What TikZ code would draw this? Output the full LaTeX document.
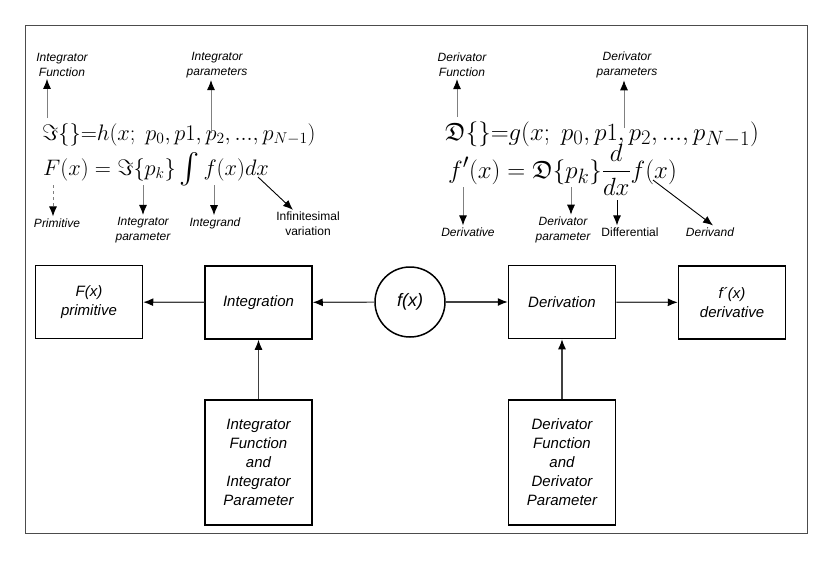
\documentclass[tikz,border=0pt]{standalone}
\usepackage{amsmath,amssymb,graphicx}
\usepackage{fontspec}
\setsansfont{Liberation Sans}
\usetikzlibrary{arrows.meta}

\newcommand{\bigintop}{\mathop{\vcenter{\hbox{\scalebox{1.35}{$\int$}}}}}

\tikzset{
  blk/.style={draw,line width=1.5pt,minimum width=107pt,minimum height=73pt,
    align=center,font=\sffamily\itshape\fontsize{15}{19}\selectfont},
  lbl/.style={align=center,inner sep=2pt,font=\sffamily\itshape\fontsize{12}{15}\selectfont},
  eqn/.style={anchor=base west,inner sep=0pt,font=\fontsize{20.74}{25}\selectfont},
  ptr/.style={-{Latex[length=10pt,width=8pt,black]},gray,line width=0.9pt},
  conn/.style={-{Latex[length=10pt,width=8pt,black]},black!75,line width=1.2pt},
}

\begin{document}
\begin{tikzpicture}[x=1pt,y=-1pt]
\useasboundingbox (0,0) rectangle (830,587);
\draw[black!70,line width=0.8pt] (25,25) rectangle (807,533);

% integration formulas
\node[lbl] (intfun) at (62,65) {Integrator\\Function};
\node[lbl] (intpars) at (217,65) {Integrator\\parameters};
\node[eqn] (inteq) at (42,140) {\scalebox{1.08}{$\Im\{\}{=}h(x;\; p_0,p1,p_2,...,p_{N-1})$}};
\node[eqn] (intdef) at (43,175) {\scalebox{1.08}{$F(x)=\Im\{p_k\}\bigintop f(x)dx$}};
\node[lbl] (prim) at (57,223) {Primitive};
\node[lbl] (iparlbl) at (143,230) {Integrator\\parameter};
\node[lbl] (integrand) at (215,223) {Integrand};
\node[lbl,font=\sffamily\fontsize{12}{15}\selectfont] (infvar) at (308,224) {Infinitesimal\\variation};

\coordinate (im1) at (47,118);
\coordinate (ipar) at (211,133);
\coordinate (Fsym) at (53,185);
\coordinate (pk1) at (143,185);
\coordinate (fint) at (214,185);
\coordinate (dx1) at (258,177);

\draw[ptr] (im1) -- (im1 |- intfun.south);
\draw[ptr] (ipar) -- (ipar |- intpars.south);
\draw[ptr,dashed] (Fsym) -- (Fsym |- prim.north);
\draw[ptr] (pk1) -- (iparlbl.north);
\draw[ptr] (fint) -- (fint |- integrand.north);
\draw[ptr,black] (dx1) -- ([xshift=-15pt]infvar.north);

% derivation formulas
\node[lbl] (derfun) at (462,65) {Derivator\\Function};
\node[lbl] (derpars) at (627,65) {Derivator\\parameters};
\node[eqn,font=\fontsize{24.88}{30}\selectfont] (dereq) at (445,140) {$\mathfrak{D}\{\}{=}g(x;\; p_0,p1,p_2,...,p_{N-1})$};
\node[eqn,font=\fontsize{24.88}{30}\selectfont] (derdef) at (448,178) {$f'(x)=\mathfrak{D}\{p_k\}\dfrac{d}{dx}f(x)$};
\node[lbl] (deriv) at (468,232) {Derivative};
\node[lbl] (dparlbl) at (563,230) {Derivator\\parameter};
\node[lbl,font=\sffamily\fontsize{12}{15}\selectfont] (diff) at (630,232) {Differential};
\node[lbl] (derivand) at (710,232) {Derivand};

\coordinate (dfun) at (457,117);
\coordinate (dpar) at (624,128);
\coordinate (fp) at (463,187);
\coordinate (pk2) at (571,187);
\coordinate (dxd) at (617,200);
\coordinate (fx2) at (653,180);

\draw[ptr] (dfun) -- (dfun |- derfun.south);
\draw[ptr] (dpar) -- (dpar |- derpars.south);
\draw[ptr] (fp) -- (fp |- deriv.north);
\draw[ptr] (pk2) -- (pk2 |- dparlbl.north);
\draw[ptr,black] (dxd) -- (dxd |- diff.north);
\draw[ptr,black] (fx2) -- ([xshift=3pt]derivand.north);

% block diagram
\node[blk] (prmbox) at (89,302) {F(x)\\primitive};
\node[blk] (integ) at (258.5,302.5) {Integration};
\node[draw,circle,line width=1.5pt,minimum size=70pt,inner sep=0pt,
  font=\sffamily\itshape\fontsize{18}{22}\selectfont] (fx) at (410,302) {f(x)};
\node[blk] (derv) at (562,302) {Derivation};
\node[blk] (fpbox) at (732,302.5) {f´(x)\\derivative};
\node[blk,minimum height=125pt] (ipbox) at (258.5,462.5) {Integrator\\Function\\and\\Integrator\\Parameter};
\node[blk,minimum height=125pt] (dpbox) at (562,462.5) {Derivator\\Function\\and\\Derivator\\Parameter};

\draw[conn] (fx) -- (integ);
\draw[conn] (integ) -- (prmbox);
\draw[conn] (fx) -- (derv);
\draw[conn] (derv) -- (fpbox);
\draw[conn] (ipbox) -- (integ);
\draw[conn] (dpbox) -- (derv);

\end{tikzpicture}
\end{document}
